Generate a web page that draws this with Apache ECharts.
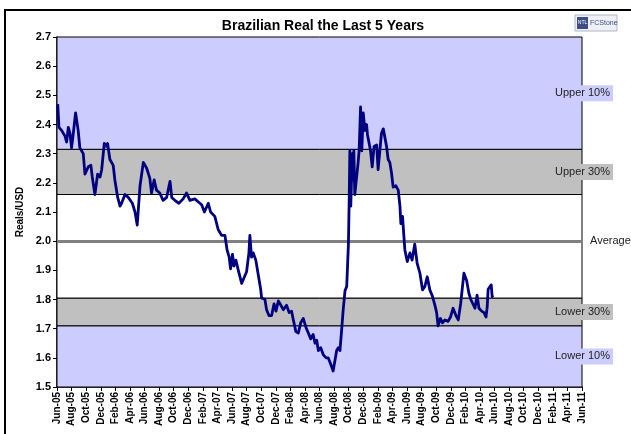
<!DOCTYPE html>
<html><head><meta charset="utf-8">
<script src="https://cdn.jsdelivr.net/npm/echarts@6/dist/echarts.min.js"></script>
<style>html,body{margin:0;padding:0;background:#fff}#c{width:631px;height:434px}</style>
</head><body><div id="c"></div>
<script>
const title = "Brazilian Real the Last 5 Years";
const yAxisName = "Reals/USD";
const monthLabels = ["Jun-05","Aug-05","Oct-05","Dec-05","Feb-06","Apr-06","Jun-06","Aug-06","Oct-06","Dec-06","Feb-07","Apr-07","Jun-07","Aug-07","Oct-07","Dec-07","Feb-08","Apr-08","Jun-08","Aug-08","Oct-08","Dec-08","Feb-09","Apr-09","Jun-09","Aug-09","Oct-09","Dec-09","Feb-10","Apr-10","Jun-10","Aug-10","Oct-10","Dec-10","Feb-11","Apr-11","Jun-11"];
const yTicks = [1.5,1.6,1.7,1.8,1.9,2.0,2.1,2.2,2.3,2.4,2.5,2.6,2.7];
const bandNames = ["Lower 10%","Lower 30%","","Upper 30%","Upper 10%"];
const bandEdges = [1.5, 1.71, 1.805, 2.16, 2.315, 2.7];
const averageValue = 2.005;
const averageLabel = "Average";

const dates = ["2005-06-04","2005-06-09","2005-06-20","2005-07-04","2005-07-11","2005-07-18","2005-07-25","2005-08-01","2005-08-07","2005-08-18","2005-08-29","2005-09-05","2005-09-19","2005-09-26","2005-10-10","2005-10-21","2005-10-27","2005-11-07","2005-11-18","2005-11-28","2005-12-05","2005-12-16","2005-12-26","2005-12-30",
"2006-01-09","2006-01-23","2006-01-30","2006-02-10","2006-02-19","2006-02-25","2006-03-11","2006-03-25","2006-04-11","2006-04-22","2006-05-01","2006-05-13","2006-05-27","2006-06-10","2006-06-23","2006-06-30","2006-07-11","2006-07-21","2006-08-04","2006-08-18","2006-09-02","2006-09-16","2006-09-23","2006-10-06","2006-10-23","2006-11-10","2006-11-24","2006-12-08","2006-12-29",
"2007-01-12","2007-01-27","2007-02-07","2007-02-22","2007-03-03","2007-03-21","2007-04-04","2007-04-18","2007-05-02","2007-05-11","2007-05-20","2007-05-26","2007-06-03","2007-06-09","2007-06-17","2007-06-27","2007-07-11","2007-07-18","2007-08-01","2007-08-11","2007-08-15","2007-08-22","2007-08-29","2007-09-09","2007-09-19","2007-09-29","2007-10-03","2007-10-17","2007-10-24","2007-11-03","2007-11-14","2007-11-24","2007-12-02","2007-12-12","2007-12-23",
"2008-01-02","2008-01-16","2008-01-27","2008-02-06","2008-02-13","2008-02-23","2008-03-04","2008-03-14","2008-03-25","2008-04-05","2008-04-15","2008-04-25","2008-05-05","2008-05-13","2008-05-20","2008-05-27","2008-06-06","2008-06-17","2008-06-28","2008-07-07","2008-07-17","2008-07-28","2008-08-12","2008-08-19","2008-08-26","2008-09-02","2008-09-09","2008-09-16","2008-09-23","2008-09-30","2008-10-03","2008-10-06","2008-10-10","2008-10-16","2008-10-20","2008-10-23","2008-10-27","2008-11-03","2008-11-10","2008-11-14","2008-11-20","2008-11-25","2008-12-01","2008-12-08","2008-12-15","2008-12-19","2008-12-26",
"2009-01-01","2009-01-08","2009-01-16","2009-01-27","2009-02-02","2009-02-09","2009-02-15","2009-02-22","2009-02-28","2009-03-07","2009-03-14","2009-03-21","2009-03-28","2009-04-04","2009-04-15","2009-04-25","2009-05-02","2009-05-06","2009-05-13","2009-05-19","2009-05-23","2009-06-02","2009-06-13","2009-06-22","2009-07-03","2009-07-13","2009-07-25","2009-08-05","2009-08-15","2009-08-25","2009-09-05","2009-09-16","2009-09-26","2009-10-03","2009-10-09","2009-10-19","2009-10-28","2009-11-07","2009-11-20","2009-11-30","2009-12-11","2009-12-23",
"2010-01-02","2010-01-12","2010-01-26","2010-02-06","2010-02-15","2010-02-22","2010-03-01","2010-03-11","2010-03-20","2010-03-28","2010-04-08","2010-04-18","2010-04-26","2010-05-01","2010-05-05","2010-05-12","2010-05-18","2010-05-22","2010-05-26"];
const values = [2.47,2.39,2.38,2.36,2.34,2.39,2.37,2.32,2.36,2.44,2.38,2.32,2.30,2.23,2.255,2.26,2.22,2.16,2.23,2.22,2.245,2.335,2.325,2.335,
2.28,2.26,2.21,2.15,2.12,2.13,2.16,2.15,2.13,2.10,2.055,2.19,2.27,2.25,2.215,2.165,2.21,2.175,2.165,2.14,2.15,2.205,2.15,2.14,2.13,2.145,2.165,2.14,2.145,
2.135,2.125,2.10,2.13,2.10,2.085,2.04,2.02,2.02,1.97,1.945,1.905,1.955,1.915,1.935,1.90,1.855,1.855,1.895,1.96,2.02,1.945,1.96,1.935,1.885,1.835,1.805,1.80,1.765,1.745,1.745,1.785,1.76,1.795,1.78,
1.765,1.78,1.755,1.76,1.73,1.69,1.685,1.72,1.735,1.705,1.685,1.665,1.68,1.65,1.66,1.625,1.635,1.61,1.60,1.60,1.58,1.555,1.625,1.635,1.625,1.695,1.77,1.83,1.845,1.99,2.13,2.31,2.12,2.30,2.21,2.31,2.16,2.165,2.27,2.31,2.46,2.31,2.44,2.38,2.40,2.365,2.37,
2.31,2.255,2.325,2.33,2.245,2.25,2.37,2.385,2.38,2.325,2.28,2.27,2.235,2.185,2.19,2.175,2.12,2.06,2.085,2.015,1.97,1.93,1.96,1.935,1.99,1.925,1.89,1.833,1.845,1.878,1.833,1.81,1.78,1.755,1.71,1.735,1.72,1.73,1.725,1.74,1.77,1.745,
1.73,1.785,1.89,1.865,1.82,1.80,1.805,1.77,1.815,1.77,1.76,1.755,1.74,1.775,1.835,1.84,1.85,1.81,1.815];

function toMonths(s){
  const p = s.split('-').map(Number);
  const dim = new Date(p[0], p[1], 0).getDate();
  return (p[0]-2005)*12 + (p[1]-6) + (p[2]-1)/dim;
}
const seriesData = dates.map((d,i)=>[toMonths(d), values[i]]);

const FONT = "'Liberation Sans', Arial, sans-serif";
const bandFill = ['#ccccff','#c0c0c0','#ffffff','#c0c0c0','#ccccff'];
const areas = [];
for (let i=0;i<bandNames.length;i++){
  areas.push([{yAxis: bandEdges[i], itemStyle:{color:bandFill[i], borderColor:'#000', borderWidth:1},
    label:{show: !!bandNames[i], formatter: bandNames[i], position:['100%','50%'], align:'center', verticalAlign:'middle',
      fontFamily:FONT, fontSize:11, color:'#222', backgroundColor:bandFill[i], padding:[3,3,2,3]}},
    {yAxis: bandEdges[i+1]}]);
}

const chart = echarts.init(document.getElementById('c'), null, {renderer:'canvas'});
chart.setOption({
  animation:false,
  title:{text:title, left:318, top:14, textAlign:'center', textStyle:{fontFamily:FONT, fontSize:14, fontWeight:'bold', color:'#000'}},
  grid:{left:57, right:49, top:37, bottom:47},
  xAxis:{type:'value', min:0, max:72, interval:2,
    axisLine:{lineStyle:{color:'#000', width:1.5}}, axisTick:{show:true, inside:false, length:4, lineStyle:{color:'#000'}},
    splitLine:{show:false},
    axisLabel:{rotate:90, margin:5, fontFamily:FONT, fontSize:10, fontWeight:'bold', color:'#000',
      formatter:v=>monthLabels[Math.round(v/2)]||''}},
  yAxis:{type:'value', min:yTicks[0], max:yTicks[yTicks.length-1], interval:0.1,
    name:yAxisName, nameLocation:'middle', nameGap:30, nameRotate:90,
    nameTextStyle:{fontFamily:FONT, fontSize:10, fontWeight:'bold', color:'#000'},
    axisLine:{show:true, lineStyle:{color:'#000', width:1.5}}, axisTick:{show:true, length:4, lineStyle:{color:'#000'}},
    splitLine:{show:false},
    axisLabel:{margin:6, fontFamily:FONT, fontSize:11, fontWeight:'bold', color:'#000', formatter:v=>v.toFixed(1)}},
  series:[{
    type:'line', data:seriesData, symbol:'none', smooth:false, clip:false,
    lineStyle:{color:'#000080', width:2.8, join:'round'}, z:5,
    markArea:{silent:true, z:1, data:areas},
    markLine:{silent:true, symbol:'none', z:2, data:[{yAxis:averageValue}],
      lineStyle:{color:'#808080', width:3, type:'solid'},
      label:{show:true, position:'end', formatter:averageLabel, fontFamily:FONT, fontSize:11, color:'#222', distance:8}}
  }],
  graphic:[
    {type:'rect', shape:{x:5,y:10,width:700,height:500}, style:{fill:'none', stroke:'#000', lineWidth:2}, silent:true},
    {type:'rect', shape:{x:575,y:15,width:42,height:16}, style:{fill:'#eef0f6', stroke:'#b0b4c8', lineWidth:1}},
    {type:'rect', shape:{x:577,y:17,width:11,height:12}, style:{fill:'#3b4f86'}},
    {type:'text', style:{x:582.5,y:23,text:'NTL', fill:'#fff', fontSize:5, fontFamily:FONT, align:'center', verticalAlign:'middle'}},
    {type:'text', style:{x:590,y:23,text:'FCStone', fill:'#3b4f86', fontSize:7, fontFamily:FONT, verticalAlign:'middle'}}
  ]
});
</script></body></html>
